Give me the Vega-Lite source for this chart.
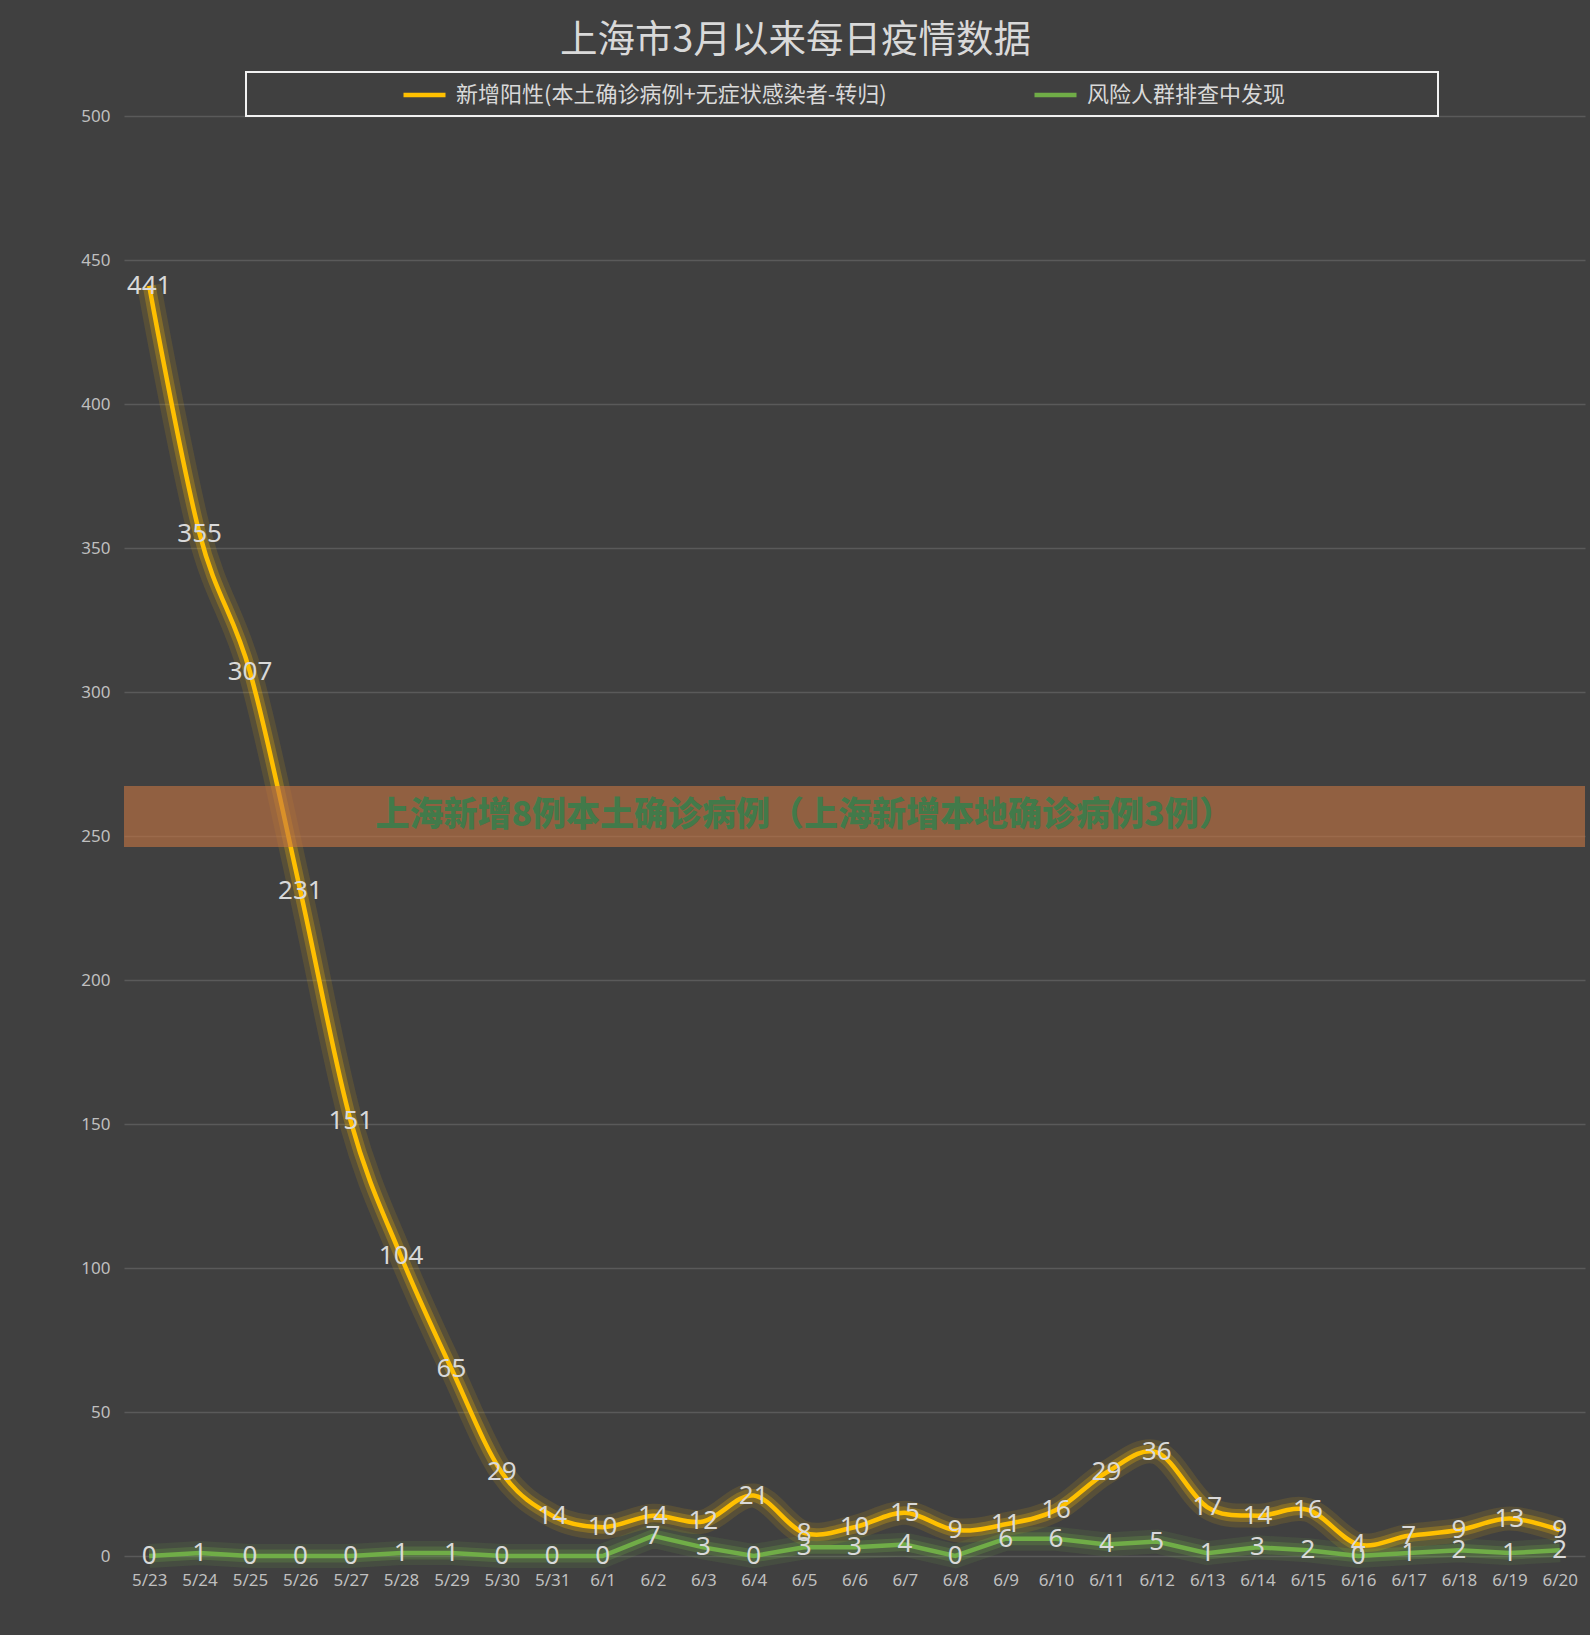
{
  "$schema": "https://vega.github.io/schema/vega-lite/v6.json",
  "width": 1461,
  "height": 1440,
  "autosize": {"type": "none"},
  "padding": {"left": 124, "top": 116, "right": 5, "bottom": 79},
  "background": "#404040",
  "title": {
    "text": "上海市3月以来每日疫情数据",
    "font": "Noto Sans CJK SC",
    "fontSize": 37.5,
    "fontWeight": "normal",
    "color": "#d9d9d9",
    "anchor": "middle",
    "frame": "group",
    "dx": -59,
    "offset": 12
  },
  "datasets": {
    "main": [
      {"date": "5/23", "series": "新增阳性(本土确诊病例+无症状感染者-转归)", "value": 441},
      {"date": "5/24", "series": "新增阳性(本土确诊病例+无症状感染者-转归)", "value": 355},
      {"date": "5/25", "series": "新增阳性(本土确诊病例+无症状感染者-转归)", "value": 307},
      {"date": "5/26", "series": "新增阳性(本土确诊病例+无症状感染者-转归)", "value": 231},
      {"date": "5/27", "series": "新增阳性(本土确诊病例+无症状感染者-转归)", "value": 151},
      {"date": "5/28", "series": "新增阳性(本土确诊病例+无症状感染者-转归)", "value": 104},
      {"date": "5/29", "series": "新增阳性(本土确诊病例+无症状感染者-转归)", "value": 65},
      {"date": "5/30", "series": "新增阳性(本土确诊病例+无症状感染者-转归)", "value": 29},
      {"date": "5/31", "series": "新增阳性(本土确诊病例+无症状感染者-转归)", "value": 14},
      {"date": "6/1", "series": "新增阳性(本土确诊病例+无症状感染者-转归)", "value": 10},
      {"date": "6/2", "series": "新增阳性(本土确诊病例+无症状感染者-转归)", "value": 14},
      {"date": "6/3", "series": "新增阳性(本土确诊病例+无症状感染者-转归)", "value": 12},
      {"date": "6/4", "series": "新增阳性(本土确诊病例+无症状感染者-转归)", "value": 21},
      {"date": "6/5", "series": "新增阳性(本土确诊病例+无症状感染者-转归)", "value": 8},
      {"date": "6/6", "series": "新增阳性(本土确诊病例+无症状感染者-转归)", "value": 10},
      {"date": "6/7", "series": "新增阳性(本土确诊病例+无症状感染者-转归)", "value": 15},
      {"date": "6/8", "series": "新增阳性(本土确诊病例+无症状感染者-转归)", "value": 9},
      {"date": "6/9", "series": "新增阳性(本土确诊病例+无症状感染者-转归)", "value": 11},
      {"date": "6/10", "series": "新增阳性(本土确诊病例+无症状感染者-转归)", "value": 16},
      {"date": "6/11", "series": "新增阳性(本土确诊病例+无症状感染者-转归)", "value": 29},
      {"date": "6/12", "series": "新增阳性(本土确诊病例+无症状感染者-转归)", "value": 36},
      {"date": "6/13", "series": "新增阳性(本土确诊病例+无症状感染者-转归)", "value": 17},
      {"date": "6/14", "series": "新增阳性(本土确诊病例+无症状感染者-转归)", "value": 14},
      {"date": "6/15", "series": "新增阳性(本土确诊病例+无症状感染者-转归)", "value": 16},
      {"date": "6/16", "series": "新增阳性(本土确诊病例+无症状感染者-转归)", "value": 4},
      {"date": "6/17", "series": "新增阳性(本土确诊病例+无症状感染者-转归)", "value": 7},
      {"date": "6/18", "series": "新增阳性(本土确诊病例+无症状感染者-转归)", "value": 9},
      {"date": "6/19", "series": "新增阳性(本土确诊病例+无症状感染者-转归)", "value": 13},
      {"date": "6/20", "series": "新增阳性(本土确诊病例+无症状感染者-转归)", "value": 9},
      {"date": "5/23", "series": "风险人群排查中发现", "value": 0},
      {"date": "5/24", "series": "风险人群排查中发现", "value": 1},
      {"date": "5/25", "series": "风险人群排查中发现", "value": 0},
      {"date": "5/26", "series": "风险人群排查中发现", "value": 0},
      {"date": "5/27", "series": "风险人群排查中发现", "value": 0},
      {"date": "5/28", "series": "风险人群排查中发现", "value": 1},
      {"date": "5/29", "series": "风险人群排查中发现", "value": 1},
      {"date": "5/30", "series": "风险人群排查中发现", "value": 0},
      {"date": "5/31", "series": "风险人群排查中发现", "value": 0},
      {"date": "6/1", "series": "风险人群排查中发现", "value": 0},
      {"date": "6/2", "series": "风险人群排查中发现", "value": 7},
      {"date": "6/3", "series": "风险人群排查中发现", "value": 3},
      {"date": "6/4", "series": "风险人群排查中发现", "value": 0},
      {"date": "6/5", "series": "风险人群排查中发现", "value": 3},
      {"date": "6/6", "series": "风险人群排查中发现", "value": 3},
      {"date": "6/7", "series": "风险人群排查中发现", "value": 4},
      {"date": "6/8", "series": "风险人群排查中发现", "value": 0},
      {"date": "6/9", "series": "风险人群排查中发现", "value": 6},
      {"date": "6/10", "series": "风险人群排查中发现", "value": 6},
      {"date": "6/11", "series": "风险人群排查中发现", "value": 4},
      {"date": "6/12", "series": "风险人群排查中发现", "value": 5},
      {"date": "6/13", "series": "风险人群排查中发现", "value": 1},
      {"date": "6/14", "series": "风险人群排查中发现", "value": 3},
      {"date": "6/15", "series": "风险人群排查中发现", "value": 2},
      {"date": "6/16", "series": "风险人群排查中发现", "value": 0},
      {"date": "6/17", "series": "风险人群排查中发现", "value": 1},
      {"date": "6/18", "series": "风险人群排查中发现", "value": 2},
      {"date": "6/19", "series": "风险人群排查中发现", "value": 1},
      {"date": "6/20", "series": "风险人群排查中发现", "value": 2}
    ],
    "band": [{"low": 246.2, "high": 267.4}],
    "banner": [{"date": "6/5", "value": 256.8, "text": "上海新增8例本土确诊病例（上海新增本地确诊病例3例）"}]
  },
  "layer": [
    {
      "data": {"name": "main"},
      "transform": [{"filter": "datum.series === '新增阳性(本土确诊病例+无症状感染者-转归)'"}],
      "mark": {"type": "line", "interpolate": "cardinal", "strokeWidth": 24, "strokeOpacity": 0.12},
      "encoding": {
        "x": {"field": "date", "type": "ordinal", "sort": null,
              "scale": {"type": "point", "padding": 0.5, "domain": ["5/23","5/24","5/25","5/26","5/27","5/28","5/29","5/30","5/31","6/1","6/2","6/3","6/4","6/5","6/6","6/7","6/8","6/9","6/10","6/11","6/12","6/13","6/14","6/15","6/16","6/17","6/18","6/19","6/20"]},
              "axis": {"title": null, "labelAngle": 0, "ticks": false, "domain": false, "grid": false, "labelColor": "#bfbfbf", "labelFont": "Noto Sans", "labelFontSize": 17, "labelPadding": 16}},
        "y": {"field": "value", "type": "quantitative", "scale": {"domain": [0, 500], "nice": false},
              "axis": {"title": null, "values": [0,50,100,150,200,250,300,350,400,450,500], "ticks": false, "domain": false, "grid": true, "gridColor": "#5a5a5a", "gridWidth": 1.3, "labelColor": "#bfbfbf", "labelFont": "Noto Sans", "labelFontSize": 17, "labelPadding": 14}},
        "color": {"field": "series", "type": "nominal",
                  "scale": {"domain": ["新增阳性(本土确诊病例+无症状感染者-转归)", "风险人群排查中发现"], "range": ["#FFC000", "#70AD47"]},
                  "legend": {
                    "orient": "none", "legendX": 122, "legendY": -44,
                    "direction": "horizontal", "columns": 2,
                    "title": "\u00a0", "titleOrient": "right", "titlePadding": 143, "titleFontSize": 8,
                    "symbolType": "M-2,0H2", "symbolSize": 441, "symbolStrokeWidth": 4.5, "symbolOpacity": 1,
                    "symbolOffset": 155.5, "labelOffset": 18.5,
                    "labelFont": "Noto Sans CJK SC", "labelFontSize": 22, "labelColor": "#d9d9d9", "labelLimit": 0,
                    "columnPadding": 0, "padding": 10,
                    "strokeColor": "#f2f2f2", "fillColor": "#404040"
                  }}
      }
    },
    {
      "data": {"name": "main"},
      "transform": [{"filter": "datum.series === '新增阳性(本土确诊病例+无症状感染者-转归)'"}],
      "mark": {"type": "line", "interpolate": "cardinal", "strokeWidth": 13, "strokeOpacity": 0.25},
      "encoding": {
        "x": {"field": "date", "type": "ordinal", "sort": null},
        "y": {"field": "value", "type": "quantitative"},
        "color": {"field": "series", "type": "nominal"}
      }
    },
    {
      "data": {"name": "main"},
      "transform": [{"filter": "datum.series === '风险人群排查中发现'"}],
      "mark": {"type": "line", "interpolate": "linear", "strokeWidth": 24, "strokeOpacity": 0.12},
      "encoding": {
        "x": {"field": "date", "type": "ordinal", "sort": null},
        "y": {"field": "value", "type": "quantitative"},
        "color": {"field": "series", "type": "nominal"}
      }
    },
    {
      "data": {"name": "main"},
      "transform": [{"filter": "datum.series === '风险人群排查中发现'"}],
      "mark": {"type": "line", "interpolate": "linear", "strokeWidth": 13, "strokeOpacity": 0.25},
      "encoding": {
        "x": {"field": "date", "type": "ordinal", "sort": null},
        "y": {"field": "value", "type": "quantitative"},
        "color": {"field": "series", "type": "nominal"}
      }
    },
    {
      "data": {"name": "main"},
      "transform": [{"filter": "datum.series === '风险人群排查中发现'"}],
      "mark": {"type": "line", "interpolate": "linear", "strokeWidth": 4.5},
      "encoding": {
        "x": {"field": "date", "type": "ordinal", "sort": null},
        "y": {"field": "value", "type": "quantitative"},
        "color": {"field": "series", "type": "nominal"}
      }
    },
    {
      "data": {"name": "main"},
      "transform": [{"filter": "datum.series === '新增阳性(本土确诊病例+无症状感染者-转归)'"}],
      "mark": {"type": "line", "interpolate": "cardinal", "strokeWidth": 4.5},
      "encoding": {
        "x": {"field": "date", "type": "ordinal", "sort": null},
        "y": {"field": "value", "type": "quantitative"},
        "color": {"field": "series", "type": "nominal"}
      }
    },
    {
      "data": {"name": "main"},
      "mark": {"type": "text", "font": "Noto Sans", "fontSize": 26, "color": "#d9d9d9", "align": "center", "baseline": "middle"},
      "encoding": {
        "x": {"field": "date", "type": "ordinal", "sort": null},
        "y": {"field": "value", "type": "quantitative"},
        "text": {"field": "value", "type": "quantitative"}
      }
    },
    {
      "data": {"name": "band"},
      "mark": {"type": "rect", "color": "#c47442", "opacity": 0.62},
      "encoding": {
        "y": {"field": "low", "type": "quantitative"},
        "y2": {"field": "high"}
      }
    },
    {
      "data": {"name": "banner"},
      "mark": {"type": "text", "font": "Noto Sans CJK SC", "fontSize": 34, "fontWeight": 900, "color": "#427a4a", "align": "center", "baseline": "middle", "dx": 0},
      "encoding": {
        "x": {"field": "date", "type": "ordinal", "sort": null},
        "y": {"field": "value", "type": "quantitative"},
        "text": {"field": "text", "type": "nominal"}
      }
    }
  ],
  "config": {
    "view": {"stroke": null},
    "legend": {"strokeWidth": 2}
  }
}
